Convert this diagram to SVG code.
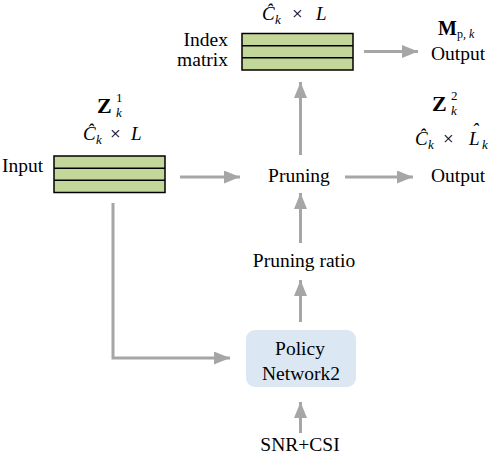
<svg xmlns="http://www.w3.org/2000/svg" width="498" height="456" viewBox="0 0 498 456">
<defs>
<style>
.t{font-family:"Liberation Serif","Tinos","DejaVu Serif",serif;font-size:19.5px;fill:#000}
.m{font-family:"Liberation Serif","Tinos","DejaVu Serif",serif;font-style:italic;font-size:19px;fill:#000}
.s{font-family:"Liberation Serif","Tinos","DejaVu Serif",serif;font-style:italic;font-size:13px;fill:#000}
.n{font-family:"Liberation Serif","Tinos","DejaVu Serif",serif;font-size:19px;fill:#000}
.b{font-family:"Liberation Serif","Tinos","DejaVu Serif",serif;font-weight:bold;font-size:22px;fill:#000}
.mat{fill:#c4d79b;stroke:#000;stroke-width:1.5}
.row{stroke:#000;stroke-width:1.5}
.c{fill:none;stroke:#a6a6a6;stroke-width:3}
</style>
<marker id="ah" markerUnits="userSpaceOnUse" markerWidth="17" markerHeight="13" refX="16" refY="6.5" orient="auto">
<path d="M0,0 L16,6.5 L0,13 z" fill="#a6a6a6"/>
</marker>
</defs>

<g id="index-matrix">
<rect class="mat" x="242" y="33.5" width="111" height="36.5"/>
<line class="row" x1="242" y1="45.7" x2="353" y2="45.7"/>
<line class="row" x1="242" y1="57.8" x2="353" y2="57.8"/>
<text class="t" x="228" y="46" text-anchor="end">Index</text>
<text class="t" x="228" y="66" text-anchor="end">matrix</text>
<text class="m" x="262" y="20">Ĉ</text><text class="s" x="275" y="24">k</text>
<text class="n" x="292" y="20">×</text>
<text class="m" x="316" y="20">L</text>
</g>

<g id="output-mask">
<text class="b" x="438" y="35" style="font-size:20px">M</text>
<text class="n" x="457" y="38" style="font-size:12px">p,</text><text class="s" x="469" y="38" style="font-size:12px">k</text>
<text class="t" x="458" y="60" text-anchor="middle">Output</text>
</g>

<g id="input">
<rect class="mat" x="54" y="156" width="111" height="36.5"/>
<line class="row" x1="54" y1="168.2" x2="165" y2="168.2"/>
<line class="row" x1="54" y1="180.3" x2="165" y2="180.3"/>
<text class="t" x="2" y="172">Input</text>
<text class="b" x="97" y="113">Z</text>
<text class="n" x="116" y="102" style="font-size:13px">1</text>
<text class="s" x="116" y="117">k</text>
<text class="m" x="83" y="140">Ĉ</text><text class="s" x="96" y="144">k</text>
<text class="n" x="110" y="140">×</text>
<text class="m" x="131" y="140">L</text>
</g>

<g id="pruning">
<text class="t" x="299" y="182" text-anchor="middle">Pruning</text>
</g>

<g id="output-z2">
<text class="b" x="432" y="111">Z</text>
<text class="n" x="451" y="100" style="font-size:13px">2</text>
<text class="s" x="451" y="115">k</text>
<text class="m" x="415" y="145">Ĉ</text><text class="s" x="428" y="149">k</text>
<text class="n" x="443" y="145">×</text>
<text class="m" x="469" y="145">L</text><text class="m" x="472" y="136">ˆ</text><text class="s" x="482" y="149">k</text>
<text class="t" x="458" y="182" text-anchor="middle">Output</text>
</g>

<g id="pruning-ratio">
<text class="t" x="304" y="267" text-anchor="middle">Pruning ratio</text>
</g>

<g id="policy-network">
<rect x="246" y="330" width="110" height="57" rx="9" fill="#dce7f4"/>
<text class="t" x="300" y="355" text-anchor="middle">Policy</text>
<text class="t" x="301" y="380" text-anchor="middle">Network2</text>
</g>

<g id="snr-csi">
<text class="t" x="300" y="451" text-anchor="middle">SNR+CSI</text>
</g>

<g id="connectors">
<line class="c" x1="364" y1="51.5" x2="418" y2="51.5" marker-end="url(#ah)"/>
<line class="c" x1="180" y1="177" x2="240" y2="177" marker-end="url(#ah)"/>
<line class="c" x1="345" y1="177" x2="413" y2="177" marker-end="url(#ah)"/>
<line class="c" x1="300.5" y1="155" x2="300.5" y2="82" marker-end="url(#ah)"/>
<line class="c" x1="300.5" y1="243" x2="300.5" y2="193" marker-end="url(#ah)"/>
<line class="c" x1="300.5" y1="322" x2="300.5" y2="280" marker-end="url(#ah)"/>
<line class="c" x1="300.5" y1="433" x2="300.5" y2="402" marker-end="url(#ah)"/>
<path class="c" d="M113,203 V358 H230" marker-end="url(#ah)"/>
</g>
</svg>
